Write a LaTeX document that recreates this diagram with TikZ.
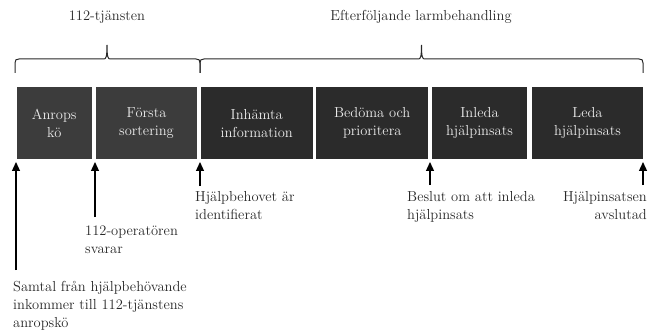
\documentclass[tikz,border=0pt]{standalone}
\usetikzlibrary{arrows.meta}
\definecolor{boxA}{RGB}{60,60,60}
\definecolor{boxB}{RGB}{43,43,43}
\definecolor{boxtext}{RGB}{235,235,235}
\definecolor{ink}{RGB}{40,40,40}
\newcommand{\drawbrace}[3]{% left, mid, right
  \draw[bracestyle] (#1,73) -- (#1,63) .. controls (#1,60) and (#1+1,59) .. (#1+4,59)
    -- (#2-3,59) .. controls (#2-1,59) and (#2,57) .. (#2,45)
    .. controls (#2,57) and (#2+1,59) .. (#2+3,59)
    -- (#3-4,59) .. controls (#3-1,59) and (#3,60) .. (#3,63) -- (#3,73);}
\begin{document}
\begin{tikzpicture}[x=1pt,y=-1pt,
  every node/.style={font=\fontsize{14.5}{18}\selectfont, text=ink},
  stage/.style={inner sep=0pt, minimum height=72pt, align=center, text=boxtext},
  lbl/.style={inner sep=0pt, align=left, anchor=north west},
  arr/.style={line width=1.3pt, -{Triangle[width=8pt,length=9pt]}},
  bracestyle/.style={line width=1pt, ink}]
\useasboundingbox (0,0) rectangle (648,334);
% top titles
\node[inner sep=0pt, anchor=base] (t112) at (107,21) {112-tjänsten};
\node[inner sep=0pt, anchor=base] (tefter) at (421,21) {Efterföljande larmbehandling};
% braces
\drawbrace{15}{107}{200}
\drawbrace{200}{421.5}{643}
% stages
\node[stage, fill=boxA, minimum width=75.5pt] (b1) at (54.25,123.3) {Anrops\\kö};
\node[stage, fill=boxA, minimum width=101pt] (b2) at (146.5,123.3) {Första\\sortering};
\node[stage, fill=boxB, minimum width=112pt] (b3) at (256.7,123.3) {Inhämta\\information};
\node[stage, fill=boxB, minimum width=112.3pt] (b4) at (372.2,123.3) {Bedöma och\\prioritera};
\node[stage, fill=boxB, minimum width=95.6pt] (b5) at (479.5,123.3) {Inleda\\hjälpinsats};
\node[stage, fill=boxB, minimum width=111.6pt] (b6) at (587.5,123.3) {Leda\\hjälpinsats};
% labels
\node[lbl] (l1) at (13,281) {Samtal från hjälpbehövande\\inkommer till 112-tjänstens\\anropskö};
\node[lbl] (l2) at (85,226) {112-operatören\\svarar};
\node[lbl] (l3) at (195,191) {Hjälpbehovet är\\identifierat};
\node[lbl] (l4) at (407,191) {Beslut om att inleda\\hjälpinsats};
\node[inner sep=0pt, align=right, anchor=north east] (l5) at (647,191) {Hjälpinsatsen\\avslutad};
% arrow end points
\coordinate (a1) at (16,162); \coordinate (s1) at (16,270);
\coordinate (a2) at (95,162); \coordinate (s2) at (95,217);
\coordinate (a3) at (200,162); \coordinate (s3) at (200,186);
\coordinate (a4) at (430,162); \coordinate (s4) at (430,185);
\coordinate (a5) at (643,162); \coordinate (s5) at (643,185);
\draw[arr] (s1) -- (a1);
\draw[arr] (s2) -- (a2);
\draw[arr] (s3) -- (a3);
\draw[arr] (s4) -- (a4);
\draw[arr] (s5) -- (a5);
\end{tikzpicture}
\end{document}
